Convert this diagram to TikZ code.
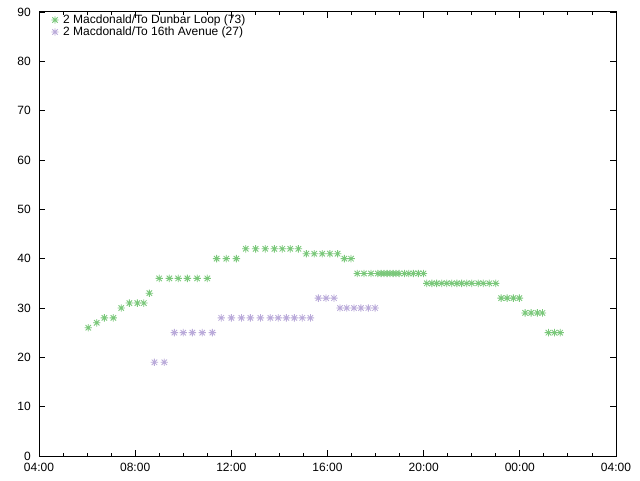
\documentclass[tikz,border=0pt]{standalone}
\usepackage{fontspec}
\setmainfont{Liberation Sans}
\usetikzlibrary{positioning}
\definecolor{dunbar}{RGB}{122,200,122}
\definecolor{sixteenth}{RGB}{186,170,218}

\begin{document}
\begin{tikzpicture}[
    x=1pt, y=1pt,
    every node/.style={font=\fontsize{12}{12}\selectfont, inner sep=0pt},
    frame/.style={draw=black, line width=1pt},
    tickline/.style={draw=black, line width=0.9pt},
    star mark/.pic={\draw[x=1pt, y=1pt, line width=0.85pt, line cap=butt]
        (-3.7,0) -- (3.7,0) (0,-3.7) -- (0,3.7)
        (-2.7,-2.7) -- (2.7,2.7) (-2.7,2.7) -- (2.7,-2.7);}
]
    \fill[white] (0,0) rectangle (640,480);
    \useasboundingbox (0,0) rectangle (640,480);

    % frame and ticks
    \draw[frame] (39,24) rectangle (616,468);
    \foreach \k in {0,...,24} {
        \pgfmathsetmacro{\xx}{39+24.0417*\k}
        \draw[tickline] (\xx,24) -- ++(0,3) (\xx,468) -- ++(0,-3);
    }
    \foreach \k/\lab in {0/04:00,1/08:00,2/12:00,3/16:00,4/20:00,5/00:00,6/04:00} {
        \pgfmathsetmacro{\xx}{39+96.1667*\k}
        \draw[tickline] (\xx,24) -- ++(0,6) (\xx,468) -- ++(0,-6);
        \node (xl\k) at (\xx,13) {\lab};
    }
    \foreach \k in {0,...,9} {
        \pgfmathsetmacro{\yy}{24+49.3333*\k}
        \pgfmathtruncatemacro{\val}{10*\k}
        \draw[tickline] (39,\yy) -- ++(6,0) (616,\yy) -- ++(-6,0);
        \node[anchor=east] (yl\k) at (31,\yy) {\val};
    }

    % key
    \pic[dunbar] at (55,460) {star mark};
    \node[anchor=west] (key1) at (63,460) {2 Macdonald/To Dunbar Loop (73)};
    \pic[sixteenth] at (55,448) {star mark};
    \node[anchor=west] (key2) at (63,448) {2 Macdonald/To 16th Avenue (27)};

    % data, hour of day against value
    \begin{scope}[xshift=-57.167pt, yshift=24pt, x=24.0417pt, y=4.9333pt]
        \foreach \t/\v in {6.05/26,6.40/27,6.72/28,7.09/28,7.42/30,7.76/31,8.09/31,8.36/31,8.59/33,
            9.00/36,9.42/36,9.79/36,10.17/36,10.58/36,11.00/36,11.39/40,11.79/40,12.21/40,
            12.60/42,13.01/42,13.41/42,13.79/42,14.12/42,14.45/42,14.79/42,
            15.12/41,15.45/41,15.78/41,16.10/41,16.42/41,16.70/40,16.98/40,
            17.24/37,17.52/37,17.81/37,18.09/37,18.23/37,18.35/37,18.48/37,18.60/37,
            18.73/37,18.85/37,18.98/37,19.20/37,19.38/37,19.57/37,19.78/37,19.99/37,
            20.13/35,20.34/35,20.54/35,20.75/35,20.96/35,21.17/35,21.38/35,21.58/35,
            21.79/35,22.00/35,22.27/35,22.48/35,22.73/35,23.00/35,
            23.22/32,23.47/32,23.73/32,23.98/32,24.22/29,24.47/29,24.73/29,24.94/29,
            25.19/25,25.44/25,25.68/25}
            \pic[dunbar] at (\t,\v) {star mark};
        \foreach \t/\v in {8.80/19,9.21/19,9.63/25,10.00/25,10.38/25,10.79/25,11.21/25,
            11.58/28,12.00/28,12.42/28,12.79/28,13.21/28,13.62/28,13.95/28,14.29/28,
            14.62/28,14.95/28,15.29/28,15.62/32,15.94/32,16.27/32,
            16.52/30,16.80/30,17.10/30,17.39/30,17.70/30,17.98/30}
            \pic[sixteenth] at (\t,\v) {star mark};
    \end{scope}
\end{tikzpicture}
\end{document}
